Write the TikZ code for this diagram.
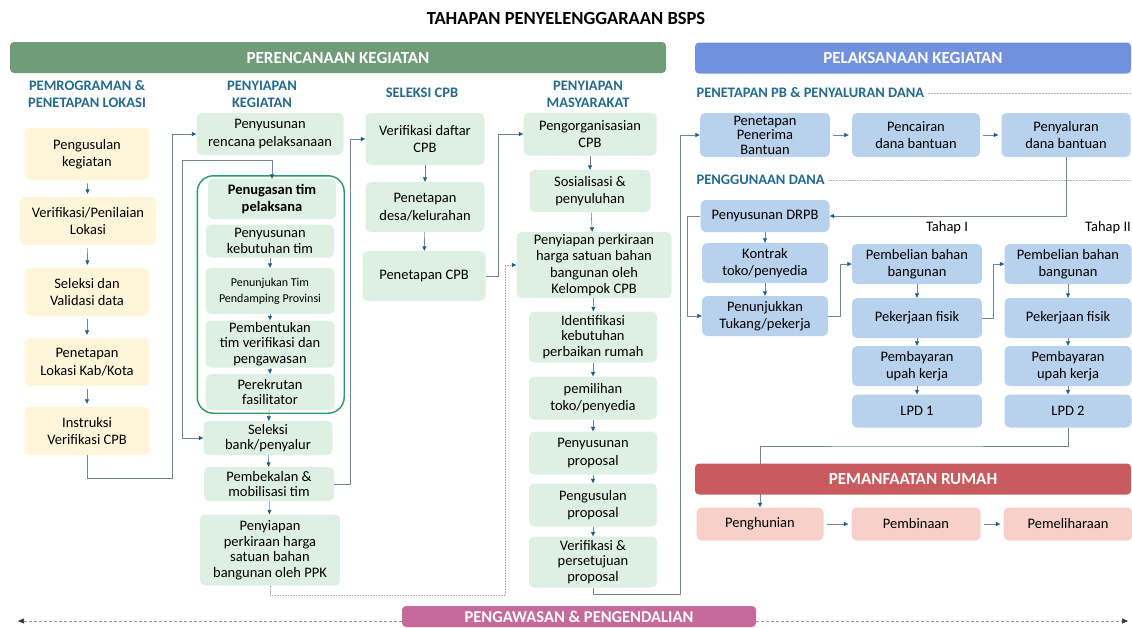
\documentclass[tikz,border=0pt]{standalone}
\usepackage{fontspec}
\setmainfont{Carlito}
\usepackage{tikz}
\usetikzlibrary{arrows.meta,positioning,fit}
\definecolor{plangreen}{RGB}{112,156,121}
\definecolor{boxgreen}{RGB}{222,240,228}
\definecolor{boxyellow}{RGB}{255,246,218}
\definecolor{exeblue}{RGB}{113,144,222}
\definecolor{boxblue}{RGB}{184,209,236}
\definecolor{userred}{RGB}{201,90,94}
\definecolor{boxpink}{RGB}{246,208,201}
\definecolor{controlpink}{RGB}{198,106,156}
\definecolor{headblue}{RGB}{36,106,140}
\definecolor{framegreen}{RGB}{46,150,105}
\definecolor{linegray}{RGB}{110,134,152}
\definecolor{tipblue}{RGB}{30,92,135}
\newcommand{\fs}[2]{\fontsize{#1}{#2}\selectfont}

\begin{document}
\begin{tikzpicture}[x=1pt,y=-1pt,font=\fs{14.5}{17.5},
  stepbox/.style={rounded corners=5pt, align=center, inner sep=1pt},
  progbox/.style={stepbox, fill=boxyellow, minimum width=125pt, minimum height=48pt},
  planbox/.style={stepbox, fill=boxgreen, minimum width=128pt, minimum height=40pt},
  exebox/.style={stepbox, fill=boxblue, minimum width=129pt, minimum height=40pt},
  usebox/.style={stepbox, fill=boxpink, minimum width=128pt, minimum height=33pt},
  tight/.style={font=\fs{14.5}{15.5}},
  banner/.style={rounded corners=4pt, text=white, font=\bfseries\fs{17}{19}, minimum height=31pt},
  colhead/.style={align=center, text=headblue, font=\bfseries\fs{14.5}{17}},
  teamframe/.style={draw=framegreen, line width=1.4pt, rounded corners=16pt, inner xsep=8pt, inner ysep=3pt},
  flow/.style={draw=linegray, line width=0.6pt, -{Triangle[length=4.5pt,width=4pt,color=tipblue]}},
  gapflow/.style={flow, shorten <=3pt, shorten >=3pt},
  dotflow/.style={draw=gray!70, line width=0.6pt, densely dotted, -{Triangle[length=4.5pt,width=4pt,color=tipblue]}},
  dashflow/.style={draw=gray!80, line width=0.6pt, densely dashed, -{Triangle[length=6pt,width=5pt,color=black!80]}},
  rulegray/.style={draw=gray!60, line width=0.5pt, densely dotted}]
  \useasboundingbox (0,0) rectangle (1132,627);

  \node[font=\bfseries\fs{18.5}{20}] (title) at (566,18) {TAHAPAN PENYELENGGARAAN BSPS};

  % phase banners
  \node[banner, fill=plangreen, minimum width=656pt] (perencanaan) at (338,57.5) {PERENCANAAN KEGIATAN};
  \node[banner, fill=exeblue, minimum width=436pt] (pelaksanaan) at (913,58) {PELAKSANAAN KEGIATAN};

  % column headings
  \node[colhead] (hprog) at (87,94) {PEMROGRAMAN \&\\PENETAPAN LOKASI};
  \node[colhead] (hsiap) at (262,94) {PENYIAPAN\\KEGIATAN};
  \node[colhead] (hcpb) at (422,93) {SELEKSI CPB};
  \node[colhead] (hmas) at (588,94) {PENYIAPAN\\MASYARAKAT};
  \node[colhead, anchor=west] (hpb) at (693,93) {PENETAPAN PB \& PENYALURAN DANA};
  \node[colhead, anchor=west] (hguna) at (693,180) {PENGGUNAAN DANA};
  \coordinate (ruleend) at (1131,0);
  \draw[rulegray] (hpb.east) -- (hpb.east -| ruleend);
  \draw[rulegray] (hguna.east) -- (hguna.east -| ruleend);

  % pemrograman & penetapan lokasi
  \node[progbox, minimum height=52pt] (usulan) at (87,154) {Pengusulan\\kegiatan};
  \node[progbox, minimum width=137pt] (verlok) at (88,221) {Verifikasi/Penilaian\\Lokasi};
  \node[progbox] (validasi) at (87,292) {Seleksi dan\\Validasi data};
  \node[progbox] (lokasi) at (87,362) {Penetapan\\Lokasi Kab/Kota};
  \node[progbox] (instruksi) at (87,431) {Instruksi\\Verifikasi CPB};
  \draw[gapflow] (usulan) -- (verlok);
  \draw[gapflow] (verlok) -- (validasi);
  \draw[gapflow] (validasi) -- (lokasi);
  \draw[gapflow] (lokasi) -- (instruksi);

  % penyiapan kegiatan
  \node[planbox, minimum width=147pt, minimum height=42pt] (rencana) at (270,134) {Penyusunan\\rencana pelaksanaan};
  \node[planbox, font=\bfseries\fs{14.5}{17}] (penugasan) at (272,199) {Penugasan tim\\pelaksana};
  \node[planbox, minimum height=33pt, tight] (kebutuhan) at (270,241) {Penyusunan\\kebutuhan tim};
  \node[planbox, minimum width=129pt, minimum height=46pt, font=\fs{12}{16}] (pendamping) at (270,291) {Penunjukan Tim\\Pendamping Provinsi};
  \node[planbox, minimum width=129pt, minimum height=47pt, tight] (pembentukan) at (270,344) {Pembentukan\\tim verifikasi dan\\pengawasan};
  \node[planbox, minimum width=129pt, minimum height=36pt, tight] (perekrutan) at (270,392) {Perekrutan\\fasilitator};
  \node[teamframe, fit=(penugasan)(kebutuhan)(pendamping)(pembentukan)(perekrutan)] (timframe) {};
  \node[planbox, minimum width=129pt, minimum height=34pt, tight] (bank) at (268,438) {Seleksi\\bank/penyalur};
  \node[planbox, minimum width=130pt, minimum height=34pt, tight] (pembekalan) at (269,484) {Pembekalan \&\\mobilisasi tim};
  \node[planbox, minimum width=140pt, minimum height=71pt, tight] (ppk) at (270,550) {Penyiapan\\perkiraan harga\\satuan bahan\\bangunan oleh PPK};
  \coordinate (railA) at (172,478);
  \draw[flow] (instruksi.south) |- (railA) |- (rencana.west);
  \coordinate (railB) at (182,160);
  \draw[flow] (railB) -| (penugasan.north);
  \draw[flow] (railB) |- (bank.west);
  \draw[flow] (kebutuhan) -- (pendamping);
  \draw[flow] (pendamping) -- (pembentukan);
  \draw[flow] (pembentukan) -- (perekrutan);
  \draw[flow] (perekrutan) -- (bank);
  \draw[flow] (bank) -- (pembekalan);
  \draw[flow] (pembekalan) -- (ppk);

  % seleksi cpb
  \node[planbox, minimum width=119pt, minimum height=52pt] (verdaftar) at (425,139) {Verifikasi daftar\\CPB};
  \node[planbox, minimum width=119pt, minimum height=50pt] (desa) at (425,207) {Penetapan\\desa/kelurahan};
  \node[planbox, minimum width=123pt, minimum height=50pt] (cpb) at (424,276) {Penetapan CPB};
  \draw[flow] (verdaftar) -- (desa);
  \draw[flow] (desa) -- (cpb);
  \coordinate (railC) at (350,484);
  \draw[flow] (pembekalan.east) -- (railC) |- (verdaftar.west);

  % penyiapan masyarakat
  \node[planbox, minimum width=133pt, minimum height=43pt] (organisasi) at (590,134) {Pengorganisasian\\CPB};
  \node[planbox, minimum width=121pt, minimum height=42pt] (sosialisasi) at (590,191) {Sosialisasi \&\\penyuluhan};
  \node[planbox, minimum width=155pt, minimum height=66pt, font=\fs{14.5}{16.5}] (kelompok) at (594,265) {Penyiapan perkiraan\\harga satuan bahan\\bangunan oleh\\Kelompok CPB};
  \node[planbox, minimum height=51pt, tight] (identifikasi) at (593,337) {Identifikasi\\kebutuhan\\perbaikan rumah};
  \node[planbox, minimum height=43pt] (pemilihan) at (593,398) {pemilihan\\toko/penyedia};
  \node[planbox, minimum height=43pt] (susunprop) at (593,453) {Penyusunan\\proposal};
  \node[planbox, minimum height=43pt] (usulprop) at (593,505) {Pengusulan\\proposal};
  \node[planbox, minimum height=51pt, tight] (setuju) at (593,562) {Verifikasi \&\\persetujuan\\proposal};
  \draw[flow] (organisasi) -- (sosialisasi);
  \draw[flow] (sosialisasi) -- (kelompok);
  \draw[flow] (kelompok) -- (identifikasi);
  \draw[flow] (identifikasi) -- (pemilihan);
  \draw[flow] (pemilihan) -- (susunprop);
  \draw[flow] (susunprop) -- (usulprop);
  \draw[flow] (usulprop) -- (setuju);
  \coordinate (railE) at (498,276);
  \draw[flow] (cpb.east) -- (railE) |- (organisasi.west);
  \coordinate (railD) at (505,595);
  \draw[dotflow] (ppk.south) |- (railD) |- (kelompok.west);

  % penetapan pb & penyaluran dana
  \node[exebox, minimum width=130pt, minimum height=44pt, font=\fs{14.5}{14.5}, inner sep=0pt] (penerima) at (765,135) {Penetapan\\Penerima\\Bantuan};
  \node[exebox, minimum width=128pt, minimum height=44pt] (pencairan) at (916,135) {Pencairan\\dana bantuan};
  \node[exebox, minimum height=44pt] (penyaluran) at (1066,135) {Penyaluran\\dana bantuan};
  \draw[gapflow] (penerima) -- (pencairan);
  \draw[gapflow] (pencairan) -- (penyaluran);
  \coordinate (railF) at (680,594);
  \draw[flow] (setuju.south) |- (railF) |- (penerima.west);

  % penggunaan dana
  \node[exebox, minimum height=32pt] (drpb) at (765,216) {Penyusunan DRPB};
  \node[exebox, minimum width=126pt] (kontrak) at (765,263) {Kontrak\\toko/penyedia};
  \node[exebox, minimum width=126pt] (tukang) at (765,316) {Penunjukkan\\Tukang/pekerja};
  \draw[flow] (penyaluran.south) |- (drpb.east);
  \draw[flow] (drpb) -- (kontrak);
  \draw[flow] (kontrak) -- (tukang);
  \coordinate (railG) at (687,216);
  \draw[flow] (drpb.west) -- (railG) |- (tukang.west);

  \node (tahap1) at (947,228) {Tahap I};
  \node (tahap2) at (1108,228) {Tahap II};
  \node[exebox, minimum width=130pt] (beli1) at (917,264) {Pembelian bahan\\bangunan};
  \node[exebox, minimum width=130pt] (fisik1) at (917,318) {Pekerjaan fisik};
  \node[exebox, minimum width=130pt] (upah1) at (917,366) {Pembayaran\\upah kerja};
  \node[exebox, minimum width=130pt, minimum height=33pt] (lpd1) at (917,411) {LPD 1};
  \node[exebox, minimum width=127pt] (beli2) at (1068,264) {Pembelian bahan\\bangunan};
  \node[exebox, minimum width=127pt] (fisik2) at (1068,318) {Pekerjaan fisik};
  \node[exebox, minimum width=127pt] (upah2) at (1068,366) {Pembayaran\\upah kerja};
  \node[exebox, minimum width=127pt, minimum height=33pt] (lpd2) at (1068,411) {LPD 2};
  \draw[flow] (beli1) -- (fisik1);
  \draw[flow] (fisik1) -- (upah1);
  \draw[flow] (upah1) -- (lpd1);
  \draw[flow] (beli2) -- (fisik2);
  \draw[flow] (fisik2) -- (upah2);
  \draw[flow] (upah2) -- (lpd2);
  \coordinate (railH) at (840,316);
  \draw[flow] (tukang.east) -- (railH) |- (beli1.west);
  \coordinate (railJ) at (993,318);
  \draw[flow] (fisik1.east) -- (railJ) |- (beli2.west);

  % pemanfaatan rumah
  \node[usebox, minimum width=127pt] (huni) at (760,524) {Penghunian};
  \node[usebox, minimum width=129pt] (bina) at (916,524) {Pembinaan};
  \node[usebox, minimum width=129pt] (pelihara) at (1068,524) {Pemeliharaan};
  \draw[gapflow] (huni) -- (bina);
  \draw[gapflow] (bina) -- (pelihara);
  \coordinate (railI) at (900,446);
  \draw[flow] (lpd2.south) |- (railI) -| (huni.north);
  \node[banner, fill=userred, minimum width=436pt] (pemanfaatan) at (913,479) {PEMANFAATAN RUMAH};

  % pengawasan
  \node[banner, fill=controlpink, minimum width=354pt, minimum height=21pt, font=\bfseries\fs{16.5}{18}] (pengawasan) at (579,616.5) {PENGAWASAN \& PENGENDALIAN};
  \coordinate (pengleft) at (18,621);
  \coordinate (pengright) at (1128,621);
  \draw[dashflow] (pengawasan.west |- pengleft) -- (pengleft);
  \draw[dashflow] (pengawasan.east |- pengright) -- (pengright);
\end{tikzpicture}
\end{document}
